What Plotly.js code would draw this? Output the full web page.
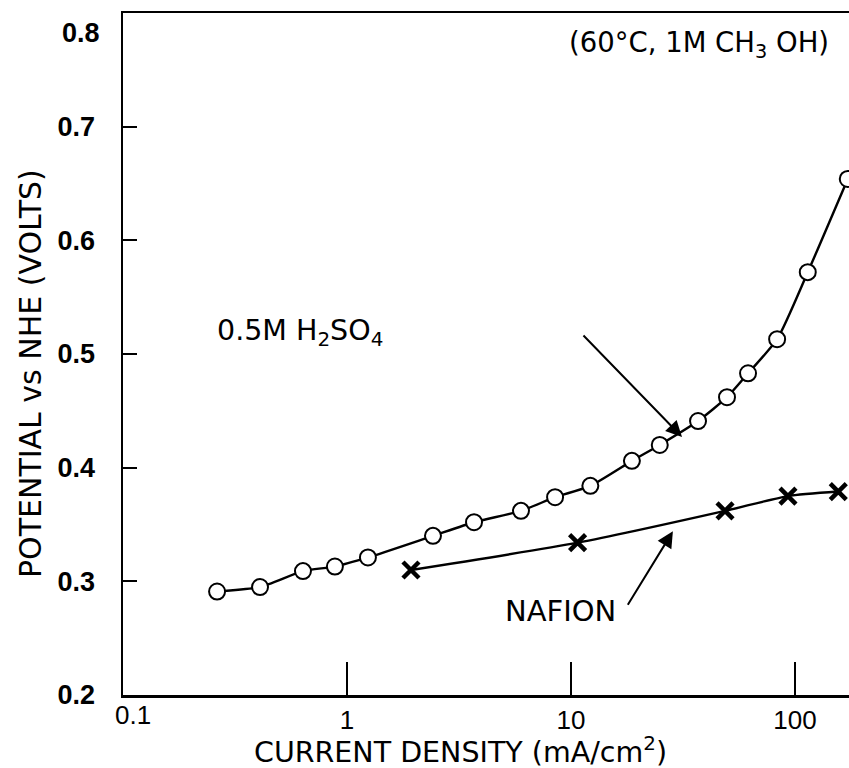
<!DOCTYPE html>
<html>
<head>
<meta charset="utf-8">
<script src="https://cdn.plot.ly/plotly-3.0.1.min.js"></script>
<style>html,body{margin:0;padding:0;background:#fff;}#chart{width:849px;height:768px;}</style>
</head>
<body>
<div id="chart"></div>
<script>
// H2SO4 (0.5M) series
const h2so4Current = [0.263, 0.409, 0.636, 0.883, 1.24, 2.42, 3.69, 5.98, 8.49, 12.2, 18.7, 24.9, 36.9, 49.7, 61.7, 83.2, 114, 172];
const h2so4Potential = [0.291, 0.295, 0.309, 0.313, 0.321, 0.340, 0.352, 0.362, 0.374, 0.384, 0.406, 0.420, 0.441, 0.462, 0.483, 0.513, 0.572, 0.654];
// NAFION series
const nafionCurrent = [1.93, 10.7, 48.7, 93, 156];
const nafionPotential = [0.310, 0.334, 0.362, 0.375, 0.379];
// ticks
const xTickVals = [0.1, 1, 10, 100];
const xTickText = ["0.1", "1", "10", "100"];
const yTickVals = [0.2, 0.3, 0.4, 0.5, 0.6, 0.7];
const yTickText = ["0.2", "0.3", "0.4", "0.5", "0.6", "0.7"];
const yTopLabel = 0.8;
const xTitle = "CURRENT DENSITY (mA/cm<sup>2</sup>)";
const yTitle = "POTENTIAL vs NHE (VOLTS)";

const FONT = "Liberation Sans, Arial, Helvetica, sans-serif";
const WIDE = "DejaVu Sans, Liberation Sans, Arial, sans-serif";

const traces = [
  {
    x: h2so4Current, y: h2so4Potential, type: "scatter", mode: "lines+markers",
    line: {color: "#000", width: 2.4, shape: "spline", smoothing: 0.6},
    marker: {symbol: "circle", size: 16, color: "#fff", line: {color: "#000", width: 2}},
    showlegend: false, hoverinfo: "skip"
  },
  {
    x: nafionCurrent, y: nafionPotential, type: "scatter", mode: "lines+markers",
    line: {color: "#000", width: 2.4, shape: "spline", smoothing: 0.6},
    marker: {symbol: "x-thin-open", size: 16, color: "#000", line: {color: "#000", width: 4.5}},
    showlegend: false, hoverinfo: "skip"
  }
];

const layout = {
  width: 849, height: 768,
  margin: {l: 123, r: 0, t: 13, b: 73},
  paper_bgcolor: "#fff", plot_bgcolor: "#fff",
  font: {family: FONT, color: "#000", size: 24},
  xaxis: {
    type: "log", range: [-1, 2.241],
    tickvals: xTickVals.slice(1), ticktext: xTickText.slice(1),
    ticks: "inside", ticklen: 33, tickwidth: 2, tickcolor: "#000",
    showline: true, linecolor: "#000", linewidth: 2.5, mirror: true,
    showgrid: false, zeroline: false,
    tickfont: {family: FONT, size: 26, color: "#000"},
    ticklabelstandoff: 0,
    fixedrange: true
  },
  yaxis: {
    range: [0.2, 0.8],
    tickvals: yTickVals, ticktext: yTickText,
    ticks: "inside", ticklen: 14, tickwidth: 2, tickcolor: "#000",
    showline: true, linecolor: "#000", linewidth: 2.5, mirror: false,
    showgrid: false, zeroline: false,
    tickfont: {family: FONT, size: 27, color: "#000", weight: "bold"},
    ticklabelstandoff: 20,
    fixedrange: true
  },
  annotations: [
    {xref: "paper", yref: "paper", x: (460 - 123) / 726, y: (695 - 750) / 682, text: xTitle, showarrow: false,
     xanchor: "center", yanchor: "middle", font: {family: WIDE, size: 28.5}},
    {xref: "paper", yref: "paper", x: (30 - 123) / 726, y: (695 - 374) / 682, text: yTitle, showarrow: false,
     textangle: -90, xanchor: "center", yanchor: "middle", font: {family: WIDE, size: 30}},
    {xref: "paper", yref: "y", x: 0, y: yTopLabel, text: "<b>" + yTopLabel.toFixed(1) + "</b>", showarrow: false,
     xanchor: "right", yanchor: "middle", xshift: -21, yshift: -20, font: {family: FONT, size: 27}},
    {xref: "paper", yref: "paper", x: 0, y: 0, yshift: -20, xshift: 10, text: xTickText[0], showarrow: false,
     xanchor: "center", yanchor: "middle", font: {family: FONT, size: 26}},
    {xref: "paper", yref: "paper", x: (567 - 123) / 726, y: (695 - 45) / 682, text: "(60°C, 1M CH<sub>3</sub> OH)", showarrow: false,
     xanchor: "left", yanchor: "middle", font: {family: WIDE, size: 27.5}},
    {xref: "paper", yref: "paper", x: (215 - 123) / 726, y: (695 - 332) / 682, text: "0.5M H<sub>2</sub>SO<sub>4</sub>", showarrow: false,
     xanchor: "left", yanchor: "middle", font: {family: WIDE, size: 28.5}},
    {xref: "paper", yref: "paper", x: (503 - 123) / 726, y: (695 - 611) / 682, text: "NAFION", showarrow: false,
     xanchor: "left", yanchor: "middle", font: {family: WIDE, size: 29}},
    {xref: "x", yref: "y", x: Math.log10(31.3), y: 0.427, ax: -100, ay: -103, text: "", showarrow: true,
     arrowhead: 2, arrowsize: 1.6, arrowwidth: 2, arrowcolor: "#000"},
    {xref: "x", yref: "y", x: Math.log10(28.5), y: 0.344, ax: -46, ay: 75, text: "", showarrow: true,
     arrowhead: 2, arrowsize: 1.6, arrowwidth: 2, arrowcolor: "#000"}
  ]
};

Plotly.newPlot("chart", traces, layout, {displayModeBar: false, staticPlot: true});
</script>
</body>
</html>
